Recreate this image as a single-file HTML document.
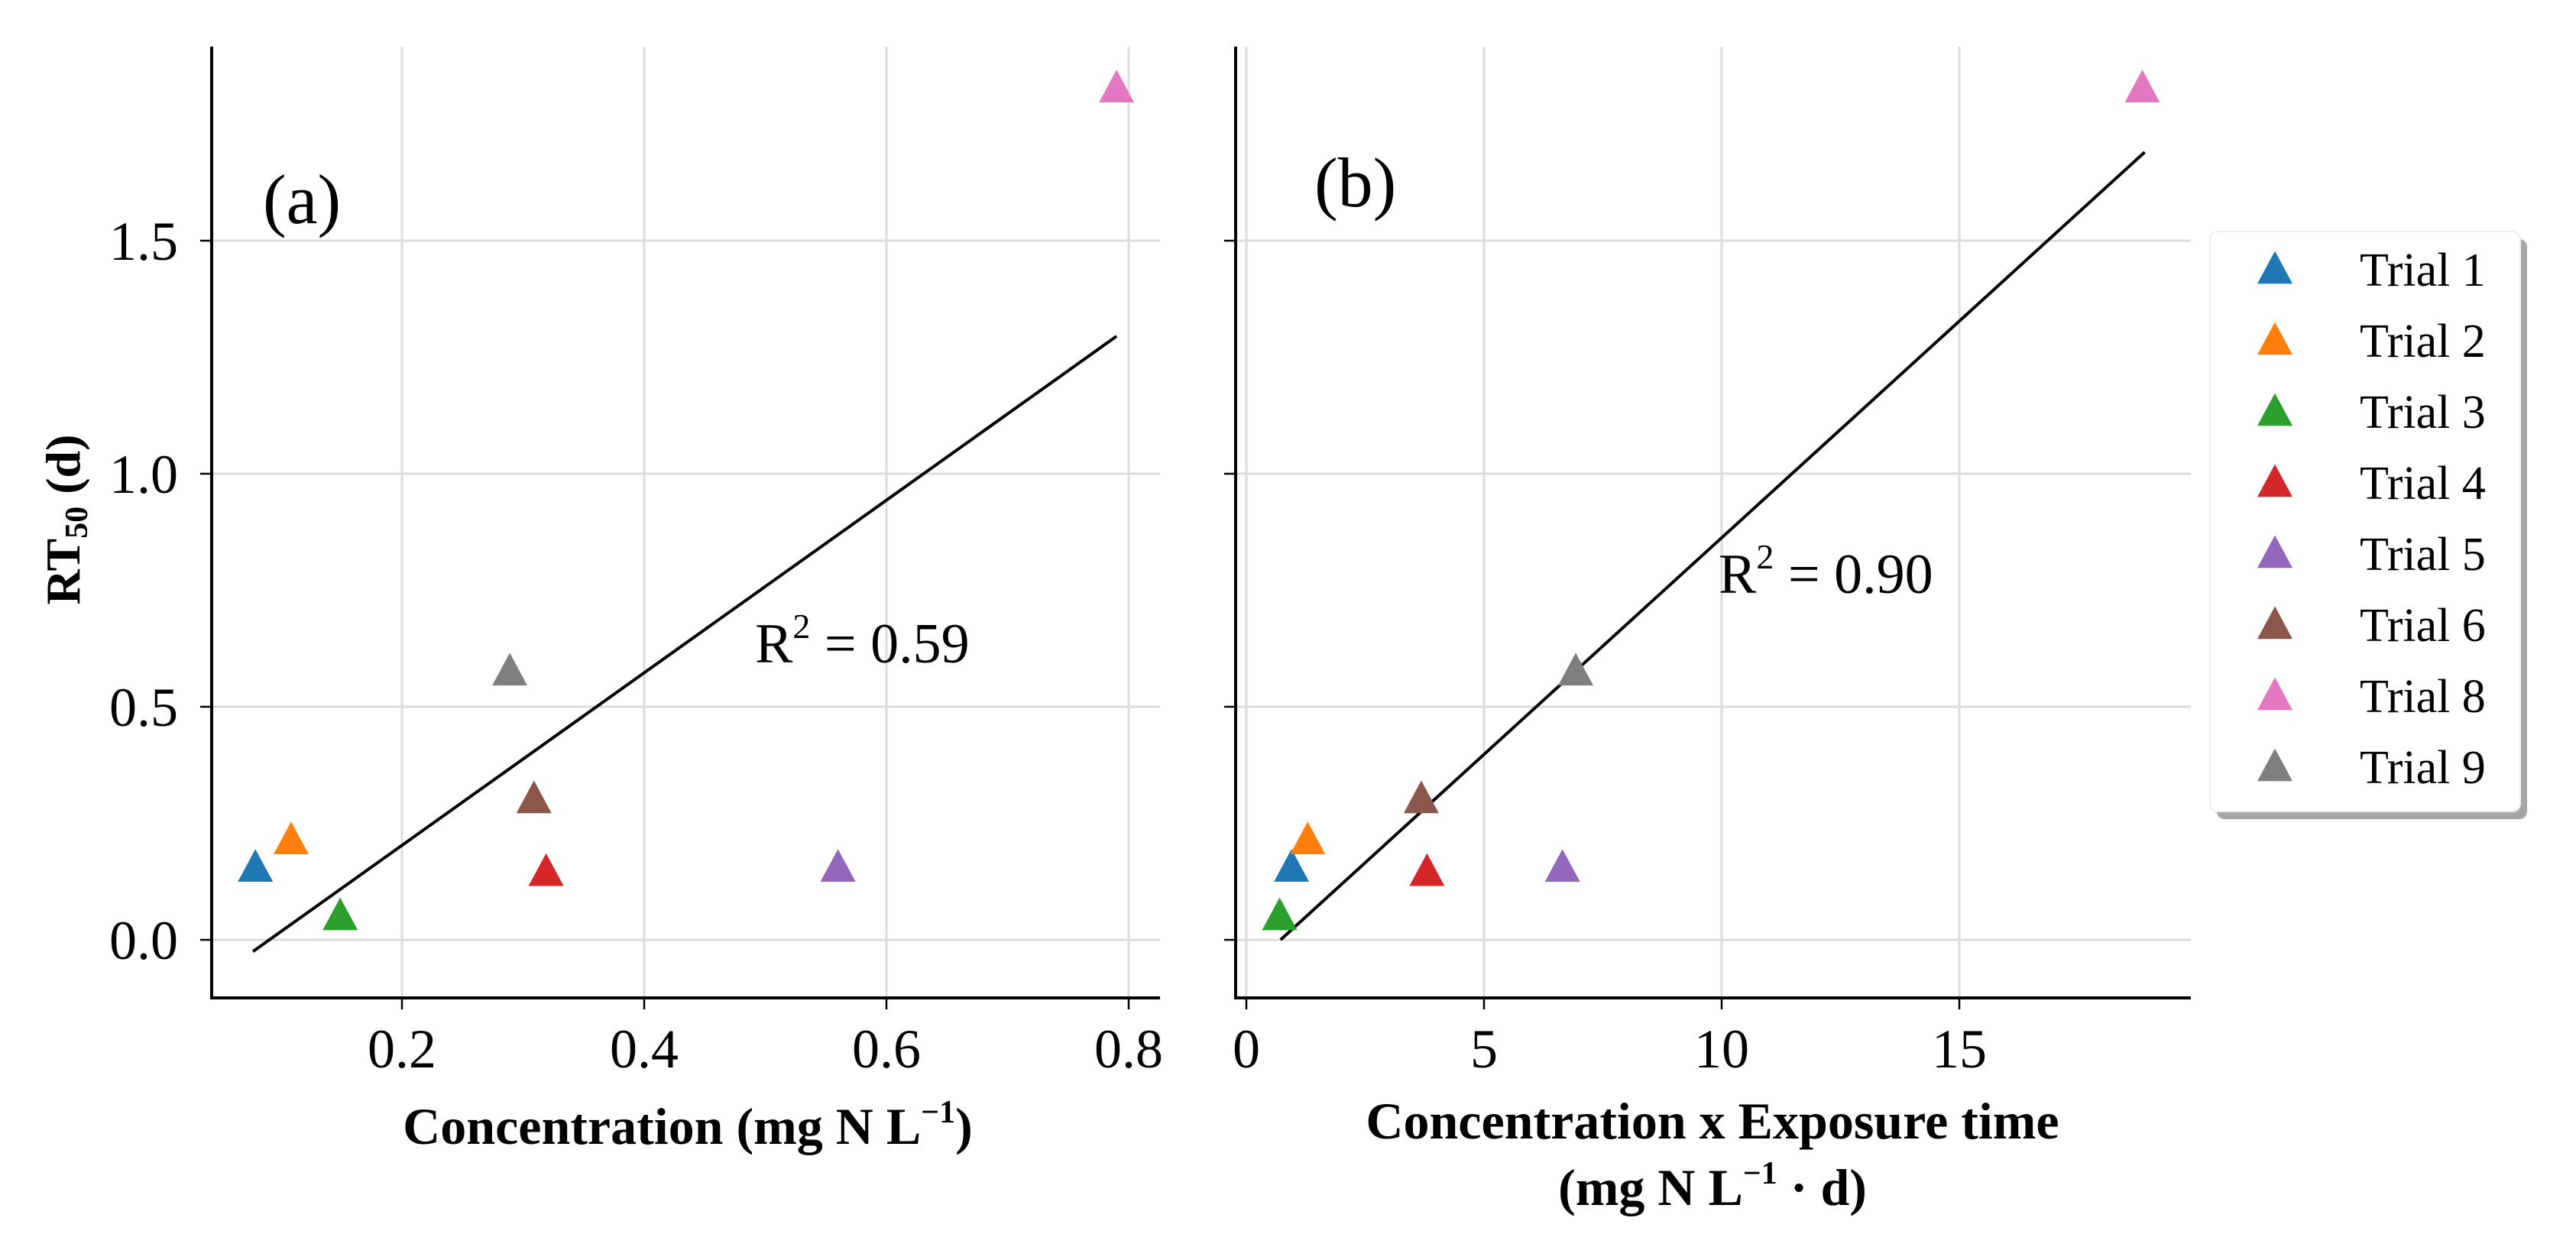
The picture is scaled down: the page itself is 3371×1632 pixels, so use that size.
<!DOCTYPE html>
<html><head><meta charset="utf-8"><style>
html,body{margin:0;padding:0;background:#fff;}
svg{display:block;}
text{font-family:"Liberation Serif",serif;fill:#000;}
</style></head><body>
<svg id="chart" width="3371" height="1632" viewBox="0 0 3371 1632" xmlns="http://www.w3.org/2000/svg">
<g id="g"></g>
<text x="344" y="292" font-size="92">(a)</text>
<text x="1720" y="270" font-size="92">(b)</text>
<text x="988" y="867" font-size="74">R<tspan font-size="46" dy="-32">2</tspan><tspan dy="32"> = 0.59</tspan></text>
<text x="2249" y="776" font-size="74">R<tspan font-size="46" dy="-32">2</tspan><tspan dy="32"> = 0.90</tspan></text>
<text transform="translate(104,680) rotate(-90)" font-size="64" font-weight="bold" text-anchor="middle">RT<tspan font-size="42" dy="10">50</tspan><tspan dy="-10"> (d)</tspan></text>
<text x="900" y="1497" font-size="68" font-weight="bold" text-anchor="middle">Concentration (mg N L<tspan font-size="42" dy="-28">−1</tspan><tspan dy="28">)</tspan></text>
<text x="2241" y="1490" font-size="68" font-weight="bold" text-anchor="middle">Concentration x Exposure time</text>
<text x="2241" y="1577" font-size="68" font-weight="bold" text-anchor="middle">(mg N L<tspan font-size="42" dy="-28">−1</tspan><tspan dy="28"> · d)</tspan></text>
<g>
<rect x="2901" y="313" width="406" height="759" rx="10" fill="#a6a6a6"/>
<rect x="2892" y="303" width="406" height="759" rx="10" fill="#fff" stroke="#eeeeee" stroke-width="2"/>
<g id="leg"></g>
</g>
</svg>
<script>
const trials = ["Trial 1","Trial 2","Trial 3","Trial 4","Trial 5","Trial 6","Trial 8","Trial 9"];
const colors = ["#1f77b4","#ff7f0e","#2ca02c","#d62728","#9467bd","#8c564b","#e377c2","#7f7f7f"];
const rt50 = [0.148,0.207,0.044,0.139,0.148,0.295,1.82,0.569];
const concentration = [0.079,0.1085,0.149,0.319,0.560,0.309,0.79,0.289];
const concTime = [0.95,1.29,0.70,3.8,6.65,3.68,18.85,6.93];
const fitA = [[0.077,-0.025],[0.79,1.295]];
const fitB = [[0.72,0.0],[18.9,1.69]];
const xTicksA = [0.2,0.4,0.6,0.8];
const xTickLabelsA = ["0.2","0.4","0.6","0.8"];
const xTicksB = [0,5,10,15];
const xTickLabelsB = ["0","5","10","15"];
const yTicks = [0,0.5,1.0,1.5];
const yTickLabels = ["0.0","0.5","1.0","1.5"];

const NS="http://www.w3.org/2000/svg";
const g=document.getElementById('g');
function mk(tag,attrs,parent){const e=document.createElementNS(NS,tag);for(const k in attrs)e.setAttribute(k,attrs[k]);(parent||g).appendChild(e);return e;}
const yS=v=>1230-v*610;
const xA=v=>526+(v-0.2)*1585;
const xB=v=>1631+v*62.2;
const panels=[{x0:277,x1:1518,xs:xA,ticks:xTicksA,labels:xTickLabelsA,xv:concentration,fit:fitA,name:'a'},
              {x0:1617,x1:2867,xs:xB,ticks:xTicksB,labels:xTickLabelsB,xv:concTime,fit:fitB,name:'b'}];
const plotTop=61,plotBot=1306;
function tri(cx,cy,s){const h=s*0.93;return `${cx-s/2},${cy+h/3} ${cx+s/2},${cy+h/3} ${cx},${cy-2*h/3}`;}
panels.forEach((p,pi)=>{
  const pg=mk('g',{});
  
  
  p.ticks.forEach((t,i)=>{
    const x=p.xs(t);
    const gl=mk('line',{x1:x,x2:x,y1:plotTop,y2:plotBot,stroke:'#dcdcdc','stroke-width':3},pg);
    
    
    const tk=mk('line',{x1:x,x2:x,y1:plotBot,y2:plotBot+15,stroke:'#000','stroke-width':2.5},pg);
    
    
    const tl=mk('text',{x:x,y:1397,'font-size':72,'text-anchor':'middle'},pg);
    tl.textContent=p.labels[i];
    
    
  });
  yTicks.forEach((t,i)=>{
    const y=yS(t);
    const gl=mk('line',{x1:p.x0,x2:p.x1,y1:y,y2:y,stroke:'#dcdcdc','stroke-width':3},pg);
    
    
    const tk=mk('line',{x1:p.x0-15,x2:p.x0,y1:y,y2:y,stroke:'#000','stroke-width':2.5},pg);
    
    
    if(pi===0){
      const tl=mk('text',{x:233,y:y+25,'font-size':72,'text-anchor':'end'},pg);
      tl.textContent=yTickLabels[i];
      
      
    }
  });
  const ax=mk('path',{d:`M${p.x0},${plotTop} L${p.x0},${plotBot} L${p.x1},${plotBot}`,fill:'none',stroke:'#000','stroke-width':4},pg);
  
  
  const fl=mk('line',{x1:p.xs(p.fit[0][0]),y1:yS(p.fit[0][1]),x2:p.xs(p.fit[1][0]),y2:yS(p.fit[1][1]),stroke:'#000','stroke-width':4},pg);
  
  
  trials.forEach((tr,i)=>{
    const m=mk('polygon',{points:tri(p.xs(p.xv[i]),yS(rt50[i]),46),fill:colors[i]},pg);
    
    
  });
});
const leg=document.getElementById('leg');
trials.forEach((tr,i)=>{
  const cy=357+i*93;
  const m=mk('polygon',{points:tri(2977,cy,46),fill:colors[i]},leg);
  
  
  const t=mk('text',{x:3088,y:cy+17,'font-size':62},leg);
  t.textContent=tr;
  
  
});
</script>
</body></html>
